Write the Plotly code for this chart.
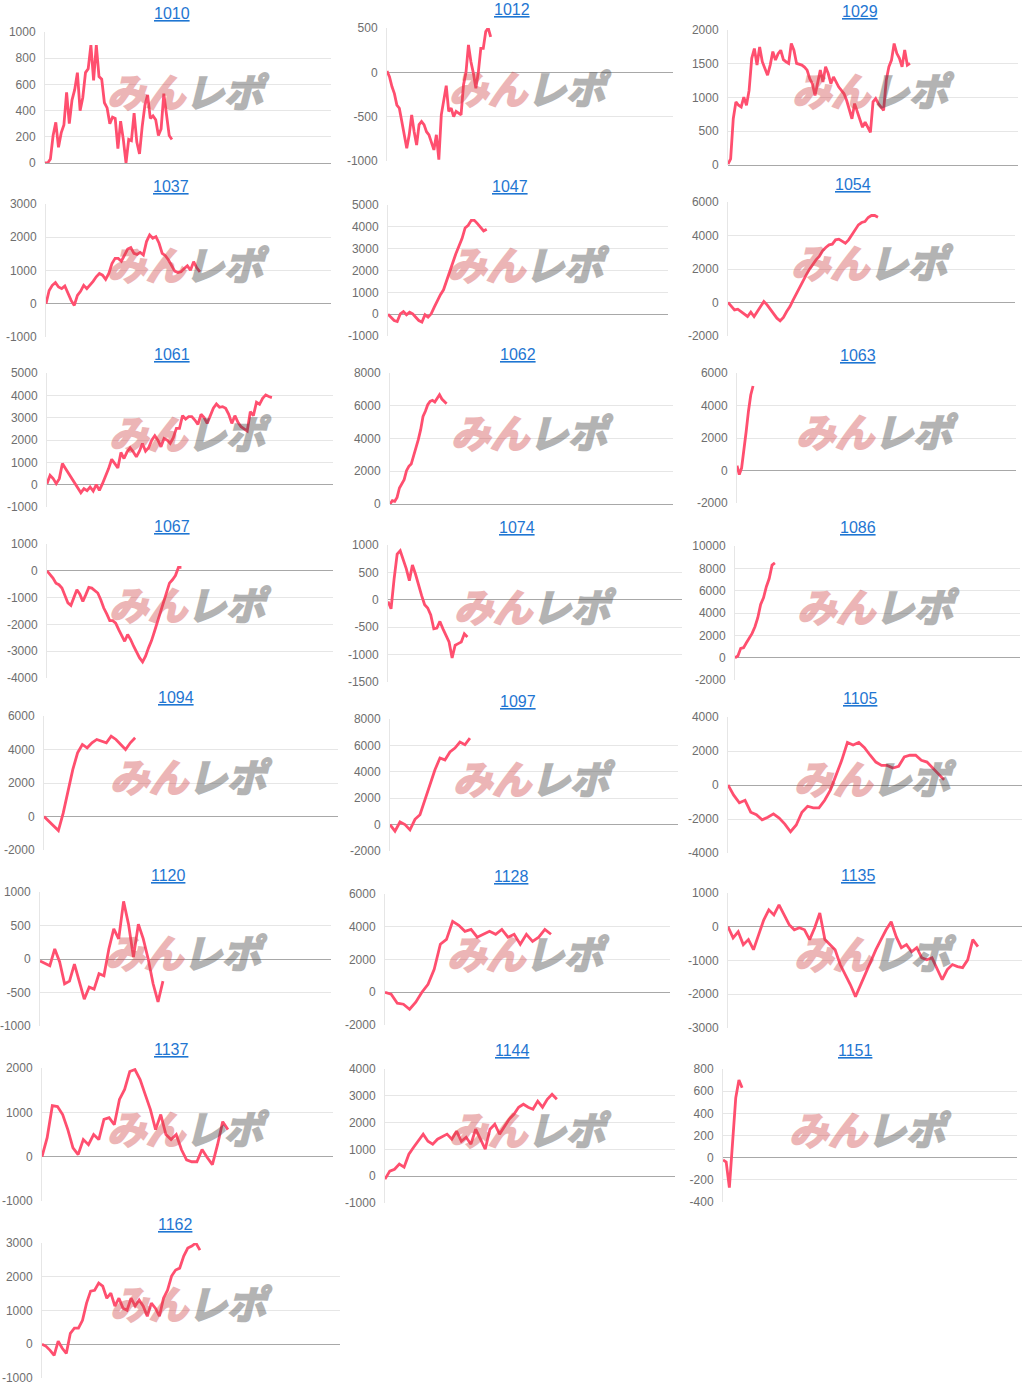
import numpy as np
import plotly.graph_objects as go

# ---------------- data ----------------
machines = ["1010", "1012", "1029", "1037", "1047", "1054", "1061", "1062", "1063",
            "1067", "1074", "1086", "1094", "1097", "1105", "1120", "1128", "1135",
            "1137", "1144", "1151", "1162"]

s1010 = [0, 0, 30, 210, 310, 120, 230, 290, 540, 300, 480, 560, 690, 400, 500, 690, 720, 900,
         630, 900, 660, 640, 460, 420, 300, 350, 340, 110, 320, 180, 0, 180, 170, 380, 160, 70,
         280, 440, 520, 340, 360, 330, 210, 260, 530, 380, 210, 180]
s1012 = [15, -50, -160, -240, -370, -405, -555, -705, -855, -705, -480, -670, -820, -590, -555,
         -590, -670, -705, -780, -875, -705, -985, -480, -290, -150, -440, -405, -500, -440, -460,
         -480, -140, 0, 310, 120, -10, -180, 0, 270, 270, 460, 500, 400]
s1029 = [15, 90, 685, 935, 885, 860, 1005, 885, 1105, 1580, 1725, 1480, 1750, 1530, 1430, 1330,
         1480, 1680, 1555, 1650, 1700, 1560, 1530, 1505, 1800, 1700, 1505, 1490, 1480, 1450, 1405,
         1280, 1205, 1030, 1230, 1405, 1230, 1455, 1355, 1205, 1305, 1230, 1155, 1105, 1055, 955,
         835, 685, 910, 785, 660, 560, 635, 560, 485, 935, 985, 910, 860, 810, 1255, 1455, 1555,
         1800, 1655, 1580, 1455, 1705, 1480, 1505]
s1037 = [0, 400, 555, 635, 505, 455, 535, 300, 100, -50, 250, 375, 555, 455, 555, 675, 810, 910,
         860, 735, 910, 1210, 1365, 1365, 1280, 1465, 1645, 1690, 1515, 1485, 1545, 1465, 1870,
         2070, 1970, 2020, 1820, 1515, 1445, 1315, 1160, 980, 940, 960, 1060, 1140, 1010, 1265,
         1080, 960]
s1047 = [0, -140, -290, -335, 15, 120, -30, 90, 15, -140, -290, -365, -30, -140, 15, 320, 630,
         890, 1115, 1500, 1930, 2355, 2770, 3150, 3460, 3950, 4070, 4300, 4300, 4150, 4000, 3810,
         3890]
s1054 = [0, -240, -440, -400, -535, -700, -835, -575, -835, -535, -240, 60, -140, -400, -675,
         -935, -1095, -895, -535, -240, 160, 555, 855, 1255, 1650, 1990, 2290, 2545, 2745, 3085,
         3285, 3445, 3480, 3740, 3780, 3680, 3540, 3740, 4040, 4340, 4635, 4775, 4835, 5075, 5195,
         5195, 5095]
s1061 = [45, 420, 270, 45, 270, 945, 720, 495, 270, 45, -180, -360, -180, -270, -105, -285, 0,
         -255, 45, 345, 720, 1140, 945, 750, 1440, 1170, 1470, 1650, 1470, 1245, 1500, 1845, 1500,
         1650, 1995, 2190, 1995, 1695, 2070, 1995, 1845, 2100, 2520, 2520, 3090, 2940, 3045, 3045,
         2895, 2700, 3150, 3000, 2745, 3045, 3420, 3615, 3465, 3495, 3420, 3150, 2745, 3090, 2790,
         2595, 2490, 2400, 3270, 3090, 3690, 3600, 3870, 4020, 3945, 3900]
s1062 = [0, 205, 165, 405, 975, 1220, 1485, 2035, 2300, 2440, 2910, 3420, 3930, 4540, 5350, 5660,
         6065, 6270, 6330, 6225, 6470, 6675, 6410, 6270, 6125]
s1063 = [300, -250, 150, 1200, 2400, 3650, 4650, 5200]
s1067 = [0, -125, -270, -460, -520, -645, -890, -1200, -1290, -955, -705, -870, -1140, -890, -620,
         -645, -745, -830, -1080, -1390, -1610, -1860, -1860, -1950, -2195, -2440, -2630, -2380,
         -2565, -2815, -3065, -3250, -3400, -3185, -2875, -2605, -2255, -1885, -1510, -1200, -830,
         -460, -335, -175, 125, 125]
s1074 = [-30, -165, 380, 835, 895, 745, 565, 350, 635, 470, 260, 80, -90, -150, -275, -530, -515,
         -395, -530, -660, -770, -1060, -830, -800, -770, -620, -680]
s1086 = [0, 150, 835, 895, 1340, 1790, 2175, 2770, 3575, 4770, 5365, 6350, 7090, 8285, 8490]
s1094 = [0, -300, -600, -840, 200, 1500, 2800, 3800, 4300, 4100, 4400, 4600, 4500, 4400, 4800,
         4600, 4300, 4000, 4400, 4700]
s1097 = [0, -500, 200, 0, -400, 400, 750, 1900, 3000, 4150, 5050, 4900, 5500, 5800, 6250, 6050,
         6550]
s1105 = [0, -600, -1050, -900, -1600, -1750, -2050, -1900, -1700, -1950, -2300, -2750, -2350,
         -1600, -1250, -1350, -1350, -900, -300, 600, 1450, 2500, 2350, 2500, 2200, 1750, 1350,
         1150, 1150, 1000, 1100, 1650, 1750, 1750, 1450, 1350, 1000, 600, 300]
s1120 = [-30, -60, -100, 150, -45, -370, -330, -75, -330, -600, -420, -450, -220, -250, 150, 450,
         300, 860, 520, 30, 520, 300, 0, -370, -640, -330]
s1128 = [0, -120, -670, -730, -1040, -610, 0, 490, 1400, 2930, 3230, 4330, 4090, 3720, 3840, 3360,
         3540, 3720, 3540, 3840, 3360, 3540, 2930, 3540, 3110, 3360, 3840, 3540]
s1135 = [0, -330, -150, -530, -380, -680, -240, 200, 500, 350, 650, 350, 60, -90, -30, -90, -380,
         -30, 410, -380, -530, -680, -1120, -1420, -1720, -2070, -1720, -1420, -1040, -680, -380,
         -90, 150, -300, -620, -530, -740, -620, -920, -980, -920, -1270, -1570, -1270, -1120,
         -1180, -1210, -980, -380, -590]
s1137 = [0, 430, 1150, 1130, 950, 610, 200, 45, 385, 270, 500, 385, 840, 880, 720, 1290, 1515,
         1920, 1965, 1740, 1400, 1060, 610, 950, 500, 385, 500, 160, -70, -115, -115, 160, -20,
         -180, 270, 790, 610]
s1144 = [-110, 190, 260, 450, 335, 820, 1080, 1305, 1570, 1305, 1195, 1380, 1490, 1570, 1380,
         1680, 1305, 1455, 1195, 1755, 1380, 1005, 1755, 1940, 1570, 1830, 2125, 2310, 2575, 2685,
         2575, 2500, 2800, 2575, 2870, 3060, 2870]
s1151 = [-20, -40, -270, 160, 540, 700, 630]
s1162 = [0, -60, -180, -330, 90, -120, -270, 325, 475, 475, 710, 1220, 1575, 1600, 1810, 1720,
         1365, 1515, 1130, 1365, 1070, 1010, 1365, 1130, 1310, 1130, 830, 1220, 1070, 830, 1365,
         1600, 2020, 2200, 2255, 2615, 2850, 2910, 3000, 2790]

series = [s1010, s1012, s1029, s1037, s1047, s1054, s1061, s1062, s1063, s1067, s1074, s1086,
          s1094, s1097, s1105, s1120, s1128, s1135, s1137, s1144, s1151, s1162]

# games played (x end) per machine, on a common 0..games_max axis
games_max = 8000
end_games = [3550, 2900, 5020, 4320, 2820, 4180, 6290, 1600, 460, 3760, 2160, 1120,
             2480, 2220, 5880, 3380, 4660, 6800, 5110, 4740, 520, 4240]

# y axis tick ranges
y_min = [0, -1000, 0, -1000, -1000, -2000, -1000, 0, -2000, -4000, -1500, -2000,
         -2000, -2000, -4000, -1000, -2000, -3000, -1000, -1000, -400, -1000]
y_max = [1000, 500, 2000, 3000, 5000, 6000, 5000, 8000, 6000, 1000, 1000, 10000,
         6000, 8000, 4000, 1000, 6000, 1000, 2000, 4000, 800, 3000]
y_step = [200, 500, 500, 1000, 1000, 2000, 1000, 2000, 2000, 1000, 500, 2000,
          2000, 2000, 2000, 500, 2000, 1000, 1000, 1000, 200, 1000]

# ---------------- layout (pixel boxes: left, right, top, bottom, title x, title y) ----------
W, H = 1029, 1390
BOX = [
    (45, 331, 32, 163, 172, 14),
    (387, 673, 28, 161, 512, 10),
    (728, 1018, 30, 165, 860, 12),
    (46, 331, 204, 337, 171, 186),
    (388, 668, 205, 336, 510, 187),
    (728, 1015, 202, 336, 853, 184),
    (47, 333, 373, 507, 172, 355),
    (390, 673, 373, 504, 518, 355),
    (737, 1016, 373, 503, 858, 356),
    (47, 333, 544, 678, 172, 526),
    (388, 682, 545, 682, 517, 527),
    (735, 1020, 546, 680, 858, 527),
    (44, 338, 716, 850, 176, 697),
    (390, 678, 719, 851, 518, 701),
    (728, 1022, 717, 853, 860, 698),
    (40, 331, 892, 1026, 168, 875),
    (385, 670, 894, 1025, 511, 876),
    (728, 1022, 893, 1028, 858, 875),
    (42, 333, 1068, 1201, 171, 1049),
    (385, 675, 1069, 1203, 512, 1050),
    (723, 1017, 1069, 1202, 855, 1050),
    (42, 340, 1243, 1378, 175, 1224),
]

LINE = "#ff4f6f"
GRID = "#e6e6e6"
ZERO = "#a8a8a8"
TICK = "#6e6e6e"
LINK = "#1f76d2"
FONT = "Arial, 'Liberation Sans', sans-serif"
WM_PINK = "#cf3e42"
WM_GRAY = "#3a3a3a"

fig = go.Figure()
annotations = []
layout = {}

for i, (name, vals) in enumerate(zip(machines, series)):
    k = "" if i == 0 else str(i + 1)
    left, right, top, bottom, tx, ty = BOX[i]
    xs = np.linspace(0, end_games[i], len(vals))
    fig.add_trace(go.Scatter(
        x=xs, y=vals, mode="lines", xaxis="x" + k, yaxis="y" + k,
        line=dict(color=LINE, width=2.8), hoverinfo="skip", showlegend=False))

    tv = list(np.arange(y_min[i], y_max[i] + 1, y_step[i]))
    layout["xaxis" + k] = dict(
        domain=[left / W, right / W], range=[0, games_max], visible=False,
        anchor="y" + k, fixedrange=True)
    layout["yaxis" + k] = dict(
        domain=[1 - bottom / H, 1 - top / H], range=[y_min[i], y_max[i]],
        anchor="x" + k, tickvals=[int(v) for v in tv], ticktext=[str(int(v)) for v in tv],
        showgrid=True, gridcolor=GRID, gridwidth=1,
        zeroline=True, zerolinecolor=ZERO, zerolinewidth=1,
        showline=True, linecolor=GRID, linewidth=1, automargin=False,
        ticks="", ticklabelstandoff=6,
        tickfont=dict(family=FONT, size=12, color=TICK), fixedrange=True)

    # title (link style)
    annotations.append(dict(
        text="<u>" + name + "</u>", x=tx / W, y=1 - ty / H, xref="paper", yref="paper",
        xanchor="center", yanchor="middle", showarrow=False,
        font=dict(family=FONT, size=16, color=LINK)))
    # watermark logo
    annotations.append(dict(
        text=("<b><i><span style='color:%s;stroke:%s;stroke-width:2.2px'>みん</span>"
              "<span style='color:%s;stroke:%s;stroke-width:2.2px'>レポ</span></i></b>")
             % (WM_PINK, WM_PINK, WM_GRAY, WM_GRAY),
        x=0.5, y=0.56, xref="x" + k + " domain", yref="y" + k + " domain",
        xanchor="center", yanchor="middle", showarrow=False, opacity=0.38,
        font=dict(family="'Noto Sans CJK JP', sans-serif", size=39)))

fig.update_layout(
    width=W, height=H, autosize=False,
    margin=dict(l=0, r=0, t=0, b=0, autoexpand=False),
    paper_bgcolor="white", plot_bgcolor="white",
    annotations=annotations, **layout)

fig.write_html(
    "out.html",
    config={"displayModeBar": False, "staticPlot": True},
    post_script=("document.documentElement.style.margin='0';"
                 "document.body.style.margin='0';"
                 "var d=document.getElementById('{plot_id}');"
                 "d.style.position='fixed';d.style.top='0px';d.style.left='0px';"))
